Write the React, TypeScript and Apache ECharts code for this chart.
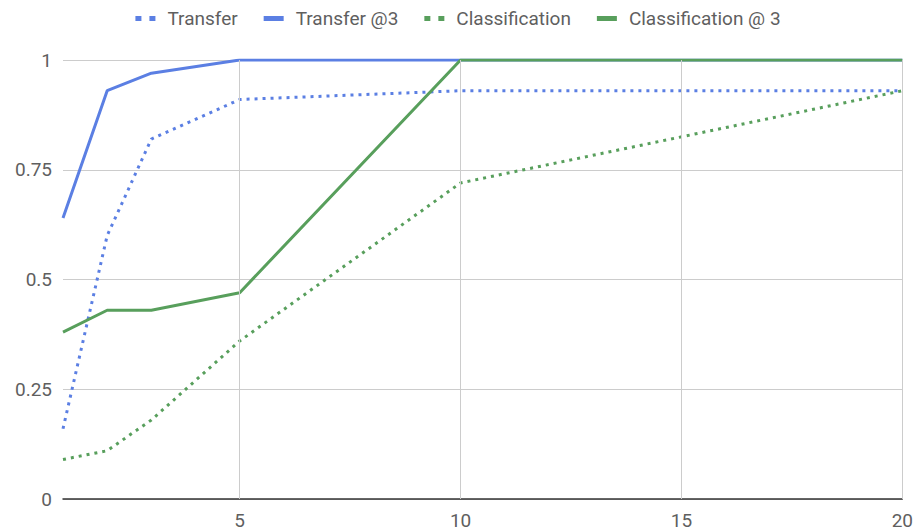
import React, { useEffect, useRef } from "react";
import * as echarts from "echarts";

// Number of examples (x) and accuracy for each setting
const shots = [1, 2, 3, 5, 10, 20];
const transfer = [0.16, 0.6, 0.82, 0.91, 0.93, 0.93];
const transferAt3 = [0.64, 0.93, 0.97, 1, 1, 1];
const classification = [0.09, 0.11, 0.18, 0.36, 0.72, 0.93];
const classificationAt3 = [0.38, 0.43, 0.43, 0.47, 1, 1];

const xTicks = [5, 10, 15, 20];
const seriesNames = ["Transfer", "Transfer @3", "Classification", "Classification @ 3"];

const BLUE = "#5b7fe3";
const GREEN = "#589f5c";
const FONT = "Roboto";
const TEXT = "#5f5f5f";
const DOTS_ICON = "path://M0,0h6v5h-6z M14,0h6v5h-6z";

const pairs = (ys: number[]) => shots.map((x, i) => [x, ys[i]]);

export default function App() {
  const ref = useRef<HTMLDivElement>(null);

  useEffect(() => {
    if (!ref.current) return;
    const chart = echarts.init(ref.current, undefined, { renderer: "svg" });

    const dotted = (name: string, color: string, ys: number[]) => ({
      name,
      type: "line",
      data: pairs(ys),
      showSymbol: false,
      lineStyle: { color, width: 3, type: [3, 5], cap: "butt" },
      itemStyle: { color },
      z: 3,
    });
    const solid = (name: string, color: string, ys: number[]) => ({
      name,
      type: "line",
      data: pairs(ys),
      showSymbol: false,
      lineStyle: { color, width: 3 },
      itemStyle: { color },
      z: 3,
    });

    const legendItem = (name: string, color: string, icon: string) => ({
      name,
      icon,
      itemStyle: { color, borderWidth: 0 },
      lineStyle: { width: 0, type: "solid" },
    });

    chart.setOption({
      animation: false,
      backgroundColor: "#ffffff",
      textStyle: { fontFamily: FONT },
      legend: {
        top: 4,
        left: "center",
        itemGap: 26,
        itemWidth: 20,
        itemHeight: 5,
        itemStyle: { borderWidth: 0 },
        lineStyle: { width: 0 },
        textStyle: {
          fontFamily: FONT,
          fontSize: 19,
          color: TEXT,
          padding: [0, 0, 0, 7],
        },
        data: [
          legendItem(seriesNames[0], BLUE, DOTS_ICON),
          legendItem(seriesNames[1], BLUE, "rect"),
          legendItem(seriesNames[2], GREEN, DOTS_ICON),
          legendItem(seriesNames[3], GREEN, "rect"),
        ],
      },
      grid: { left: 63, right: 13, top: 60, bottom: 32, containLabel: false },
      xAxis: {
        type: "value",
        min: 1,
        max: 20,
        splitLine: { show: false },
        axisTick: { show: false },
        axisLine: { show: true, lineStyle: { color: "#333333", width: 1.5 } },
        axisLabel: {
          customValues: xTicks,
          fontFamily: FONT,
          fontSize: 19,
          color: TEXT,
          margin: 12,
        },
      },
      yAxis: {
        type: "value",
        min: 0,
        max: 1,
        interval: 0.25,
        axisLine: { show: false },
        axisTick: { show: false },
        splitLine: { lineStyle: { color: "#cccccc", width: 1 } },
        axisLabel: { fontFamily: FONT, fontSize: 19, color: TEXT, margin: 11 },
      },
      series: [
        {
          name: "__grid",
          type: "line",
          data: [],
          silent: true,
          z: 1,
          markLine: {
            silent: true,
            symbol: "none",
            label: { show: false },
            lineStyle: { color: "#cccccc", width: 1, type: "solid" },
            data: xTicks.map((x) => ({ xAxis: x })),
          },
        },
        dotted(seriesNames[0], BLUE, transfer),
        solid(seriesNames[1], BLUE, transferAt3),
        dotted(seriesNames[2], GREEN, classification),
        solid(seriesNames[3], GREEN, classificationAt3),
      ],
    });

    return () => chart.dispose();
  }, []);

  return <div ref={ref} style={{ width: 916, height: 531, position: "absolute", left: 0, top: 0 }} />;
}
